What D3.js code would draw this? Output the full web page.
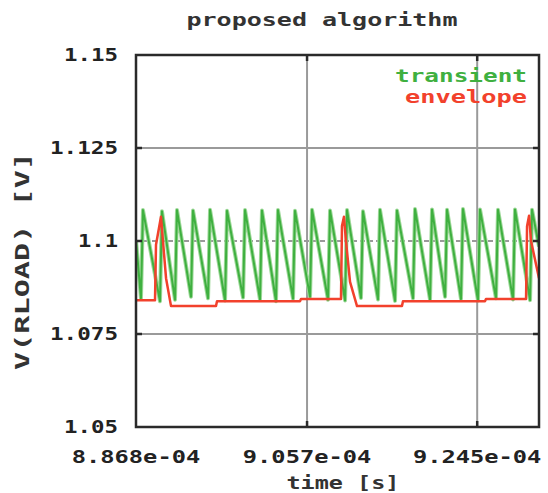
<!DOCTYPE html>
<html>
<head>
<meta charset="utf-8">
<script src="https://cdn.jsdelivr.net/npm/d3@7"></script>
<style>
  html, body { margin: 0; padding: 0; background: #fff; }
  svg { display: block; }
  text { font-family: "DejaVu Sans Mono", "Liberation Mono", monospace; font-weight: bold; }
</style>
</head>
<body>
<svg id="chart" width="548" height="493"></svg>
<script>
// Time axis is kept in microseconds; labels are written in seconds.
const xDomain = [88.68, 93.133];
const yDomain = [1.05, 1.15];

const xTickValues = [88.68, 90.57, 92.45];
const xTickLabels = ["8.868e-04", "9.057e-04", "9.245e-04"];
const yTickValues = [1.05, 1.075, 1.1, 1.125, 1.15];
const yTickLabels = ["1.05", "1.075", "1.1", "1.125", "1.15"];

// Transient waveform: one sawtooth per switching cycle.
// Time of each peak (µs), the value just before the rise, and the peak value.
const transientStart = [88.68, 1.1002];
const transientEnd = [93.133, 1.0985];
const peakTimes = [88.757, 88.967, 89.133, 89.310, 89.498, 89.686, 89.885, 90.072,
                   90.249, 90.437, 90.625, 90.824, 91.012, 91.188, 91.376, 91.564,
                   91.763, 91.951, 92.117, 92.293, 92.481, 92.680, 92.868, 93.056];
const troughValues = [1.0845, 1.0838, 1.0842, 1.0850, 1.0846, 1.0840, 1.0848, 1.0843,
                      1.0838, 1.0845, 1.0850, 1.0842, 1.0840, 1.0847, 1.0843, 1.0839,
                      1.0846, 1.0842, 1.0850, 1.0844, 1.0840, 1.0846, 1.0843, 1.0841];
const peakValues = [1.1083, 1.1080, 1.1083, 1.1082, 1.1084, 1.1081, 1.1083, 1.1082,
                    1.1083, 1.1081, 1.1084, 1.1082, 1.1083, 1.1080, 1.1084, 1.1082,
                    1.1086, 1.1085, 1.1084, 1.1086, 1.1085, 1.1084, 1.1085, 1.1084];
const riseTime = 0.022;

// Envelope simulation: vertices of the piecewise trace.
const envTimes = [88.680, 88.890, 88.901, 88.956, 88.978, 89.012, 89.067,
                  89.564, 89.575, 90.492, 90.503, 90.945, 90.956, 90.978,
                  91.000, 91.045, 91.122, 91.619, 91.630, 92.536, 92.547,
                  92.990, 93.001, 93.023, 93.045, 93.133];
const envValues = [1.0841, 1.0841, 1.0990, 1.1065, 1.1000, 1.0900, 1.0825,
                   1.0825, 1.0838, 1.0838, 1.0844, 1.0844, 1.1040, 1.1065,
                   1.1000, 1.0890, 1.0825, 1.0825, 1.0838, 1.0838, 1.0844,
                   1.0844, 1.1040, 1.1068, 1.1000, 1.0900];

const title = "proposed algorithm";
const xTitle = "time [s]";
const yTitle = "V(RLOAD) [V]";
const legendNames = ["transient", "envelope"];
const colors = { transient: "#3fb040", envelope: "#f2412c" };

const M = { left: 136, top: 55, right: 539, bottom: 427 };
const svg = d3.select("#chart");

const x = d3.scaleLinear().domain(xDomain).range([M.left, M.right]);
const y = d3.scaleLinear().domain(yDomain).range([M.bottom, M.top]);

svg.append("defs").append("clipPath").attr("id", "plot-clip")
  .append("rect").attr("x", M.left).attr("y", M.top)
  .attr("width", M.right - M.left).attr("height", M.bottom - M.top);

// grid
const grid = svg.append("g");
grid.selectAll("line.vg").data(xTickValues.slice(1)).join("line")
  .attr("x1", d => x(d)).attr("x2", d => x(d))
  .attr("y1", M.top).attr("y2", M.bottom)
  .attr("stroke", "#9a9a9a").attr("stroke-width", 2);
grid.selectAll("line.hg").data(yTickValues.slice(1, -1)).join("line")
  .attr("x1", M.left).attr("x2", M.right)
  .attr("y1", d => y(d)).attr("y2", d => y(d))
  .attr("stroke", "#9a9a9a").attr("stroke-width", 2)
  .attr("stroke-dasharray", d => d === 1.1 ? "5,3" : null);

const plot = svg.append("g").attr("clip-path", "url(#plot-clip)");

// transient trace
const transientPts = [transientStart];
peakTimes.forEach((t, i) => {
  transientPts.push([t - riseTime, troughValues[i]]);
  transientPts.push([t, peakValues[i]]);
});
transientPts.push(transientEnd);
const line = d3.line().x(d => x(d[0])).y(d => y(d[1]));

plot.append("path").datum(transientPts)
  .attr("d", line).attr("fill", "none")
  .attr("stroke", "#9fd99a").attr("stroke-width", 4).attr("stroke-linejoin", "round");
plot.append("path").datum(transientPts)
  .attr("d", line).attr("fill", "none")
  .attr("stroke", colors.transient).attr("stroke-width", 2).attr("stroke-linejoin", "round");

// envelope trace
const envPts = envTimes.map((t, i) => [t, envValues[i]]);
plot.append("path").datum(envPts)
  .attr("d", line).attr("fill", "none")
  .attr("stroke", colors.envelope).attr("stroke-width", 2.5).attr("stroke-linejoin", "round");

// frame and inward ticks
svg.append("rect").attr("x", M.left).attr("y", M.top)
  .attr("width", M.right - M.left).attr("height", M.bottom - M.top)
  .attr("fill", "none").attr("stroke", "#2a2a2a").attr("stroke-width", 2.5);
const tk = 6;
const ticks = svg.append("g").attr("stroke", "#2a2a2a").attr("stroke-width", 2.5);
xTickValues.slice(1).forEach(v => {
  ticks.append("line").attr("x1", x(v)).attr("x2", x(v)).attr("y1", M.top).attr("y2", M.top + tk);
  ticks.append("line").attr("x1", x(v)).attr("x2", x(v)).attr("y1", M.bottom).attr("y2", M.bottom - tk);
});
yTickValues.slice(1, -1).forEach(v => {
  ticks.append("line").attr("x1", M.left).attr("x2", M.left + tk).attr("y1", y(v)).attr("y2", y(v));
  ticks.append("line").attr("x1", M.right).attr("x2", M.right - tk).attr("y1", y(v)).attr("y2", y(v));
});

const charW = 14.6;
// tick labels
svg.append("g").selectAll("text").data(xTickValues).join("text")
  .attr("x", d => x(d)).attr("y", 463)
  .attr("text-anchor", "middle").attr("font-size", 18).attr("fill", "#222")
  .attr("textLength", (d, i) => xTickLabels[i].length * charW - 3)
  .attr("lengthAdjust", "spacingAndGlyphs")
  .text((d, i) => xTickLabels[i]);
svg.append("g").selectAll("text").data(yTickValues).join("text")
  .attr("x", 118).attr("y", d => y(d)).attr("dy", "0.36em")
  .attr("text-anchor", "end").attr("font-size", 18).attr("fill", "#222")
  .attr("textLength", (d, i) => yTickLabels[i].length * 14 - 2)
  .attr("lengthAdjust", "spacingAndGlyphs")
  .text((d, i) => yTickLabels[i]);

// titles
svg.append("text").attr("x", 322).attr("y", 26).attr("text-anchor", "middle")
  .attr("font-size", 18).attr("fill", "#333")
  .attr("textLength", 271).attr("lengthAdjust", "spacingAndGlyphs").text(title);
svg.append("text").attr("x", 343).attr("y", 489).attr("text-anchor", "middle")
  .attr("font-size", 18).attr("fill", "#333")
  .attr("textLength", 113).attr("lengthAdjust", "spacingAndGlyphs").text(xTitle);
svg.append("text").attr("transform", "translate(29,261) rotate(-90)")
  .attr("text-anchor", "middle").attr("font-size", 20).attr("fill", "#333")
  .attr("textLength", 218).attr("lengthAdjust", "spacingAndGlyphs").text(yTitle);

// legend
const legendY = [82, 103];
const legendW = [132, 122];
svg.append("g").selectAll("text").data(legendNames).join("text")
  .attr("x", 527).attr("y", (d, i) => legendY[i])
  .attr("text-anchor", "end").attr("font-size", 18)
  .attr("fill", d => colors[d])
  .attr("textLength", (d, i) => legendW[i]).attr("lengthAdjust", "spacingAndGlyphs")
  .text(d => d);
</script>
</body>
</html>
